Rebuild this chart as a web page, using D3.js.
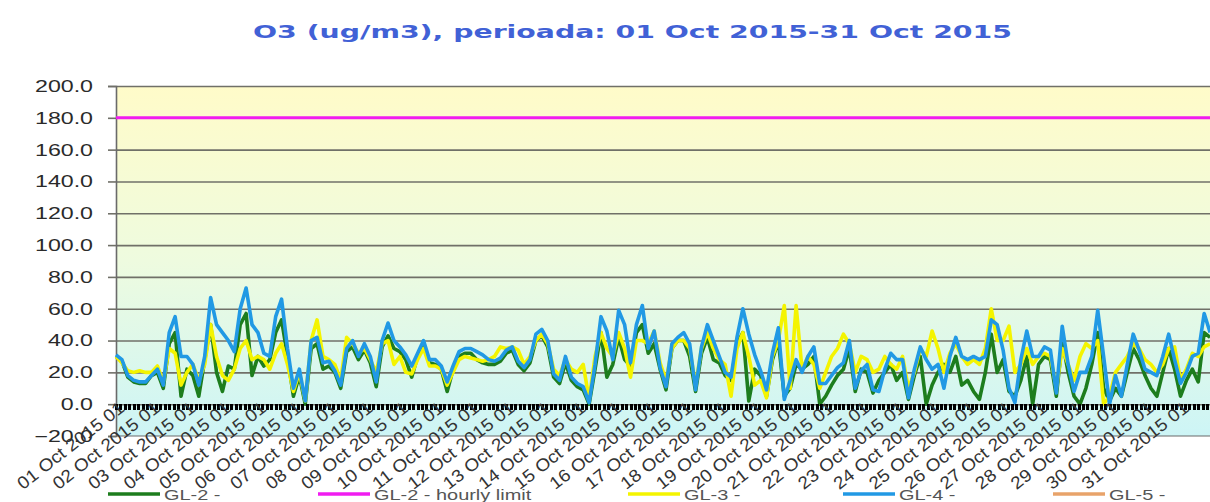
<!DOCTYPE html>
<html>
<head>
<meta charset="utf-8">
<script src="https://cdn.jsdelivr.net/npm/d3@7/dist/d3.min.js"></script>
<style>
  html, body { margin: 0; padding: 0; background: #fff; overflow: hidden; }
  svg { display: block; }
</style>
</head>
<body>
<svg id="chart"></svg>
<script>
const title = 'O3 (ug/m3), perioada: 01 Oct 2015-31 Oct 2015';

// one label per day, shown under the first hour of the day
const dayLabels = [
  '01 Oct 2015 01', '02 Oct 2015 01', '03 Oct 2015 01', '04 Oct 2015 01', '05 Oct 2015 01',
  '06 Oct 2015 01', '07 Oct 2015 01', '08 Oct 2015 01', '09 Oct 2015 01', '10 Oct 2015 01',
  '11 Oct 2015 01', '12 Oct 2015 01', '13 Oct 2015 01', '14 Oct 2015 01', '15 Oct 2015 01',
  '16 Oct 2015 01', '17 Oct 2015 01', '18 Oct 2015 01', '19 Oct 2015 01', '20 Oct 2015 01',
  '21 Oct 2015 01', '22 Oct 2015 01', '23 Oct 2015 01', '24 Oct 2015 01', '25 Oct 2015 01',
  '26 Oct 2015 01', '27 Oct 2015 01', '28 Oct 2015 01', '29 Oct 2015 01', '30 Oct 2015 01',
  '31 Oct 2015 01'
];

const yTicks = [-20, 0, 20, 40, 60, 80, 100, 120, 140, 160, 180, 200];

const hoursInMonth = 744;
const stepHours = 4; // values read every 4 hours (6 per day)
const hourlyLimit = 180;

// GL-2 (green)
const gl2 = [
  30, 27, 17, 14, 13, 13,   18, 20, 10, 38, 45, 5,    22, 18, 5, 28, 50, 20,
  8, 24, 22, 50, 57, 18,    30, 24, 28, 45, 53, 30,   5, 18, 0, 35, 38, 22,
  24, 20, 10, 33, 36, 28,   34, 26, 11, 36, 43, 35,   33, 28, 17, 30, 36, 26,
  25, 22, 8, 22, 30, 32,    32, 28, 26, 25, 25, 27,   32, 34, 25, 21, 26, 40,
  43, 36, 17, 13, 26, 15,   11, 9, 0, 22, 45, 17,     25, 42, 28, 24, 45, 50,
  32, 38, 22, 9, 35, 40,    40, 30, 8, 32, 42, 28,    26, 18, 15, 38, 45, 2,
  22, 18, 5, 28, 40, 5,     10, 25, 22, 25, 30, 0,    5, 12, 18, 22, 35, 8,
  22, 20, 7, 15, 20, 25,    15, 20, 3, 18, 30, 0,     12, 20, 25, 20, 30, 12,
  15, 8, 3, 20, 44, 20,     28, 8, 5, 15, 30, 0,      25, 30, 28, 5, 40, 20,
  5, 0, 10, 25, 45, 10,     2, 10, 5, 20, 35, 28,     18, 10, 5, 20, 35, 22,
  5, 15, 22, 14, 45, 42
];

// GL-3 (yellow)
const gl3 = [
  30, 26, 21, 20, 21, 20,   20, 24, 14, 35, 32, 12,   20, 25, 15, 25, 50, 30,
  18, 15, 22, 35, 40, 28,   30, 28, 22, 32, 38, 25,   8, 20, 2, 40, 53, 30,
  28, 25, 15, 42, 38, 32,   35, 28, 20, 38, 40, 25,   30, 20, 19, 28, 35, 24,
  24, 22, 12, 20, 28, 30,   29, 28, 27, 28, 30, 36,   35, 36, 34, 25, 30, 40,
  44, 38, 22, 18, 28, 22,   20, 25, 3, 30, 45, 35,    30, 45, 35, 17, 40, 40,
  38, 46, 26, 15, 35, 40,   40, 35, 12, 35, 45, 35,   28, 25, 5, 35, 45, 30,
  12, 15, 4, 30, 40, 62,    10, 62, 22, 30, 25, 10,   20, 30, 35, 44, 38, 20,
  30, 28, 20, 22, 30, 25,   22, 30, 10, 20, 35, 30,   46, 35, 20, 32, 38, 30,
  25, 28, 25, 35, 60, 40,   40, 49, 20, 25, 35, 25,   30, 32, 30, 10, 35, 25,
  15, 30, 38, 35, 40, 0,    5, 20, 25, 30, 38, 35,    28, 25, 20, 25, 35, 36,
  15, 22, 32, 30, 36, 38
];

// GL-4 (blue)
const gl4 = [
  31, 28, 18, 15, 14, 14,   18, 22, 12, 45, 55, 30,   30, 25, 12, 30, 67, 50,
  45, 40, 33, 60, 73, 50,   45, 32, 30, 55, 66, 35,   10, 22, 2, 40, 42, 26,
  27, 21, 12, 35, 40, 30,   38, 30, 14, 40, 51, 40,   36, 31, 24, 32, 40, 28,
  28, 24, 14, 24, 33, 35,   35, 33, 31, 28, 27, 29,   34, 36, 27, 23, 28, 44,
  47, 40, 19, 15, 30, 17,   13, 11, 1, 25, 55, 46,    28, 59, 50, 26, 50, 62,
  35, 46, 23, 11, 38, 42,   45, 38, 9, 36, 50, 40,    30, 20, 17, 42, 60, 44,
  31, 21, 9, 32, 48, 3,     15, 28, 20, 30, 36, 13,   13, 18, 23, 26, 40, 10,
  21, 25, 9, 8, 22, 32,     28, 28, 4, 22, 36, 28,    22, 25, 10, 30, 42, 30,
  28, 30, 28, 30, 53, 50,   34, 10, 1, 28, 46, 30,    30, 36, 34, 7, 49, 25,
  8, 20, 20, 30, 59, 30,    0, 18, 5, 25, 44, 34,     22, 20, 18, 30, 44, 28,
  13, 20, 30, 32, 57, 45
];

// GL-5 has no values in this period
const gl5 = [];

const series = [
  { name: 'GL-2 -', values: gl2, color: '#1d7d1d' },
  { name: 'GL-3 -', values: gl3, color: '#f4f400' },
  { name: 'GL-4 -', values: gl4, color: '#2199e4' },
  { name: 'GL-5 -', values: gl5, color: '#e8a36a' }
];

const legendItems = [
  { name: 'GL-2 -', color: '#1d7d1d' },
  { name: 'GL-2 - hourly limit', color: '#f01cf0' },
  { name: 'GL-3 -', color: '#f4f400' },
  { name: 'GL-4 -', color: '#2199e4' },
  { name: 'GL-5 -', color: '#e8a36a' }
];

const width = 1210, height = 502;
const plot = { left: 116, right: 1216, top: 86, bottom: 436 };

const svg = d3.select('#chart').attr('width', width).attr('height', height);

const x = d3.scaleLinear().domain([0, hoursInMonth]).range([plot.left, plot.right]);
const y = d3.scaleLinear().domain([-20, 200]).range([plot.bottom, plot.top]);

// plot background gradient (yellow at top, cyan at bottom)
const grad = svg.append('defs').append('linearGradient')
  .attr('id', 'bg').attr('x1', 0).attr('y1', 0).attr('x2', 0).attr('y2', 1);
grad.append('stop').attr('offset', '0%').attr('stop-color', '#fffbc9');
grad.append('stop').attr('offset', '50%').attr('stop-color', '#eefbdf');
grad.append('stop').attr('offset', '100%').attr('stop-color', '#cdf5f6');

svg.append('rect')
  .attr('x', plot.left).attr('y', plot.top)
  .attr('width', plot.right - plot.left).attr('height', plot.bottom - plot.top)
  .attr('fill', 'url(#bg)');

// gridlines
const grid = svg.append('g')
  .attr('transform', `translate(${plot.left},0)`)
  .call(d3.axisLeft(y).tickValues(yTicks.filter(t => t > -20)).tickSize(-(plot.right - plot.left)).tickFormat(''));
grid.select('.domain').remove();
grid.selectAll('line').attr('stroke', '#707068').attr('stroke-width', 1.6);

// plot border (bottom)
svg.append('line')
  .attr('x1', plot.left).attr('x2', plot.right)
  .attr('y1', plot.bottom).attr('y2', plot.bottom)
  .attr('stroke', '#6a6a6a').attr('stroke-width', 1.2);

// y axis
const yAxis = svg.append('g')
  .attr('transform', `translate(${plot.left},0)`)
  .call(d3.axisLeft(y).tickValues(yTicks).tickSize(8).tickFormat(d3.format('.1f')));
yAxis.select('.domain').attr('stroke', '#6a6a6a').attr('stroke-width', 1.6);
yAxis.selectAll('line').attr('stroke', '#707068').attr('stroke-width', 1.6);
yAxis.selectAll('text')
  .attr('font-family', '"Liberation Sans", Arial, sans-serif')
  .attr('font-size', 16)
  .attr('fill', '#2a2a2a')
  .attr('x', -23 / 1.45)
  .attr('dy', '0.34em')
  .attr('transform', 'scale(1.45,1)');

// hourly limit line
svg.append('line')
  .attr('x1', x(0)).attr('x2', x(hoursInMonth))
  .attr('y1', y(hourlyLimit)).attr('y2', y(hourlyLimit))
  .attr('stroke', '#f01cf0').attr('stroke-width', 3);

// data lines
const line = d3.line()
  .x((d, i) => x(i * stepHours))
  .y(d => y(d));

for (const s of series) {
  if (!s.values.length) continue;
  svg.append('path')
    .datum(s.values)
    .attr('fill', 'none')
    .attr('stroke', s.color)
    .attr('stroke-width', 3.6)
    .attr('stroke-linejoin', 'round')
    .attr('d', line);
}

// category axis at 0 with dense hour ticks (looks like a thick dashed line)
const hourAxis = svg.append('g')
  .attr('transform', `translate(0,${Math.round(y(0))})`)
  .call(d3.axisBottom(x).tickValues(d3.range(0, hoursInMonth + 1, 3)).tickSize(6).tickFormat(''));
hourAxis.select('.domain').remove();
hourAxis.selectAll('line')
  .attr('stroke', '#000').attr('stroke-width', 3)
  .attr('shape-rendering', 'crispEdges');

// day labels
const dayAxis = svg.append('g')
  .attr('transform', `translate(0,${y(0)})`)
  .call(d3.axisBottom(x).tickValues(d3.range(0, hoursInMonth, 24)).tickSize(0)
    .tickFormat((d, i) => dayLabels[i]));
dayAxis.select('.domain').remove();
dayAxis.selectAll('text')
  .attr('font-family', '"Liberation Sans", Arial, sans-serif')
  .attr('font-size', 17.5)
  .attr('fill', '#333')
  .attr('text-anchor', 'end')
  .attr('x', 0).attr('y', 0).attr('dy', 0)
  .attr('textLength', 130)
  .attr('lengthAdjust', 'spacingAndGlyphs')
  .attr('transform', 'translate(9,6) rotate(-38)');

// title
svg.append('text')
  .attr('x', 253).attr('y', 38)
  .attr('font-family', '"DejaVu Sans", Verdana, sans-serif')
  .attr('font-weight', 'bold')
  .attr('font-size', 18.5)
  .attr('fill', '#4161d6')
  .attr('textLength', 759)
  .attr('lengthAdjust', 'spacingAndGlyphs')
  .text(title);

// legend
const legendX = [108, 318, 628, 843, 1053];
const legend = svg.append('g');
legendItems.forEach((item, i) => {
  const g = legend.append('g').attr('transform', `translate(${legendX[i]},494)`);
  g.append('line').attr('x1', 0).attr('x2', 52).attr('y1', 0).attr('y2', 0)
    .attr('stroke', item.color).attr('stroke-width', 3.5);
  g.append('text')
    .attr('transform', 'translate(56,6) scale(1.33,1)')
    .attr('font-family', '"Liberation Sans", Arial, sans-serif')
    .attr('font-size', 15)
    .attr('fill', '#555')
    .text(item.name);
});
</script>
</body>
</html>
